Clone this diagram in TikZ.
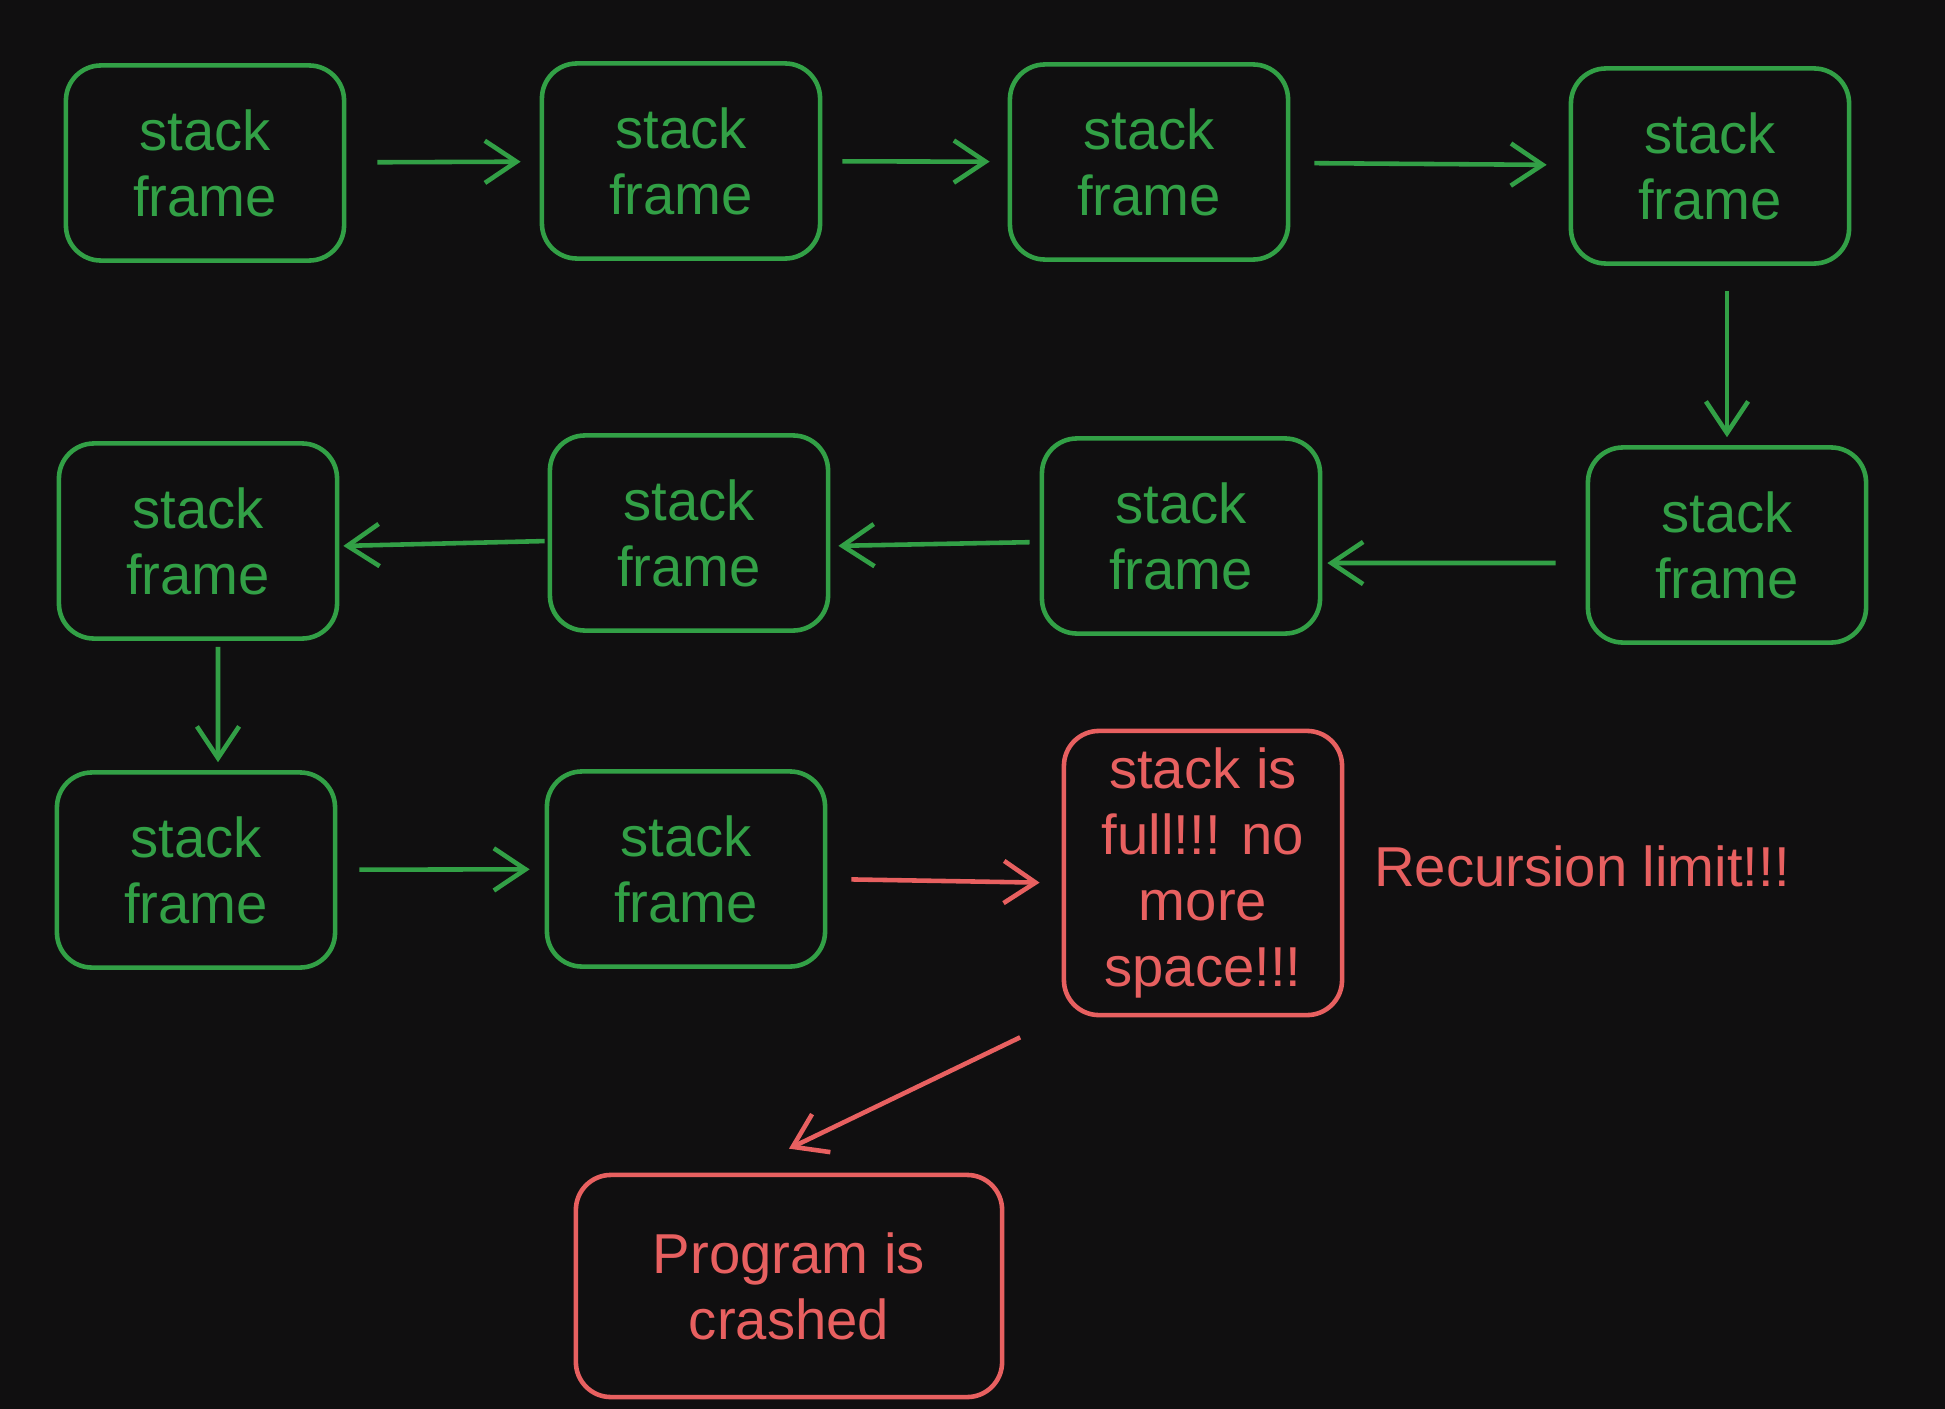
\documentclass[tikz,border=0pt]{standalone}
\usepackage{fontspec}
\setmainfont{Liberation Sans}
\usetikzlibrary{arrows.meta}
\usetikzlibrary{positioning}

\definecolor{sfgreen}{RGB}{50,160,70}
\definecolor{sfred}{RGB}{232,96,96}
\definecolor{bgdark}{RGB}{16,15,16}

\tikzset{
  stackbox/.style={draw=sfgreen, text=sfgreen, line width=1.3pt, rounded corners=0.35cm,
    minimum width=2.78cm, minimum height=1.95cm, align=center,
    font=\fontsize{16}{18.8}\selectfont},
  alarmbox/.style={stackbox, draw=sfred, text=sfred},
  flow/.style={-{Straight Barb[length=9pt,width=12pt]}, draw=sfgreen, line width=1.3pt},
  alarm/.style={flow, draw=sfred}
}

\begin{document}
\begin{tikzpicture}[x=0.01cm, y=-0.01cm]
\fill[bgdark] (0,0) rectangle (1945,1409);
\useasboundingbox (0,0) rectangle (1945,1409);

% first row, left to right
\node[stackbox] (s1) at (205,163) {stack\\frame};
\node[stackbox] (s2) at (681,161) {stack\\frame};
\node[stackbox] (s3) at (1149,162) {stack\\frame};
\node[stackbox] (s4) at (1710,166) {stack\\frame};
% second row, right to left
\node[stackbox] (s5) at (1727,545) {stack\\frame};
\node[stackbox] (s6) at (1181,536) {stack\\frame};
\node[stackbox] (s7) at (689,533) {stack\\frame};
\node[stackbox] (s8) at (198,541) {stack\\frame};
% third row
\node[stackbox] (s9) at (196,870) {stack\\frame};
\node[stackbox] (s10) at (686,869) {stack\\frame};
\node[alarmbox, minimum height=2.84cm] (full) at (1203,873) {stack is\\full!!! no\\more\\space!!!};
\node[text=sfred, font=\fontsize{16}{18.8}\selectfont] (limit) at (1582,866) {Recursion limit!!!};
\node[alarmbox, minimum width=4.26cm, minimum height=2.22cm] (crash) at (789,1286) {Program is\\crashed};

\draw[flow, shorten <=0.31cm, shorten >=0.19cm] (s1) -- (s2);
\draw[flow, shorten <=0.2cm, shorten >=0.18cm] (s2) -- (s3);
\draw[flow, shorten <=0.24cm, shorten >=0.22cm] (s3) -- (s4);
\draw[flow, shorten <=0.25cm, shorten >=0.08cm] (s4.south -| s5) -- (s5.north);
\draw[flow, shorten <=0.3cm, shorten >=0.05cm] ([yshift=-0.18cm]s5.west) -- ([yshift=-0.27cm]s6.east);
\draw[flow, shorten <=0.1cm, shorten >=0.08cm] ([yshift=-0.06cm]s6.west) -- ([yshift=-0.13cm]s7.east);
\draw[flow, shorten <=0.03cm, shorten >=0.04cm] ([yshift=-0.08cm]s7.west) -- ([yshift=-0.05cm]s8.east);
\draw[flow, shorten <=0.06cm, shorten >=0.08cm] ([xshift=0.2cm]s8.south) -- ([xshift=0.22cm]s9.north);
\draw[flow, shorten <=0.22cm, shorten >=0.15cm] (s9) -- (s10);
\draw[alarm, shorten <=0.24cm, shorten >=0.22cm] ([yshift=-0.1cm]s10.east) -- ([yshift=-0.1cm]full.west);
\draw[alarm, shorten <=0.46cm] (full.south west) -- ([yshift=0.24cm]crash.north);
\end{tikzpicture}
\end{document}
